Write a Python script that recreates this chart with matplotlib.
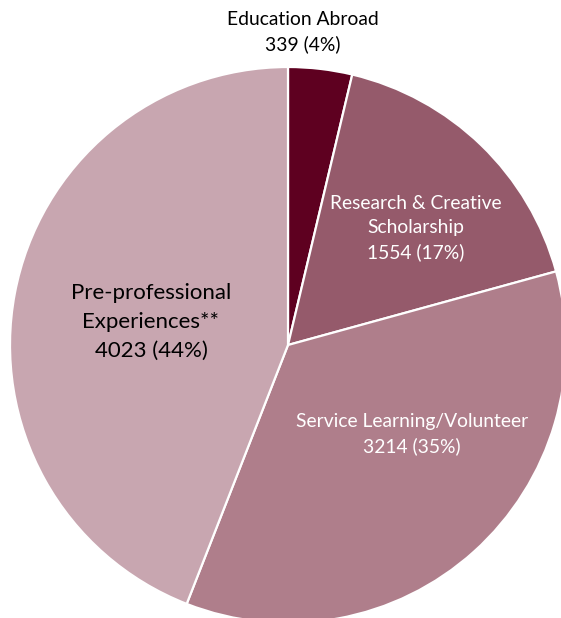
import matplotlib.pyplot as plt

categories = ["Education Abroad", "Research & Creative\nScholarship",
              "Service Learning/Volunteer", "Pre-professional\nExperiences**"]
counts = [339, 1554, 3214, 4023]
percents = [4, 17, 35, 44]
colors = ["#5e0020", "#955a6b", "#af7e8b", "#c8a6b0"]
text_colors = ["black", "white", "white", "black"]

W, H = 561, 618
fig = plt.figure(figsize=(W / 100, H / 100), dpi=100)
ax = fig.add_axes([0, 0, 1, 1])

# pie geometry in pixel units (y measured from bottom)
cx, cy, R = 288, H - 345, 278
ax.pie(counts, colors=colors, startangle=90, counterclock=False,
       center=(cx, cy), radius=R,
       wedgeprops=dict(edgecolor="white", linewidth=1.6))
ax.set_xlim(0, W)
ax.set_ylim(0, H)
ax.set_aspect("equal")
ax.axis("off")

# label anchor points (pixel, from top) and font sizes
label_pos = [(303, 32), (416, 228), (412, 434), (151, 322)]
label_size = [13.9, 13.9, 13.9, 16]
label_spacing = [1.5, 1.5, 1.5, 1.55]

for name, n, p, (lx, ly), tc, fs, ls in zip(categories, counts, percents,
                                            label_pos, text_colors,
                                            label_size, label_spacing):
    ax.text(lx, H - ly, f"{name}\n{n} ({p}%)", ha="center", va="center",
            color=tc, fontsize=fs, family="Lato", linespacing=ls)

fig.savefig("out.png", dpi=100)
